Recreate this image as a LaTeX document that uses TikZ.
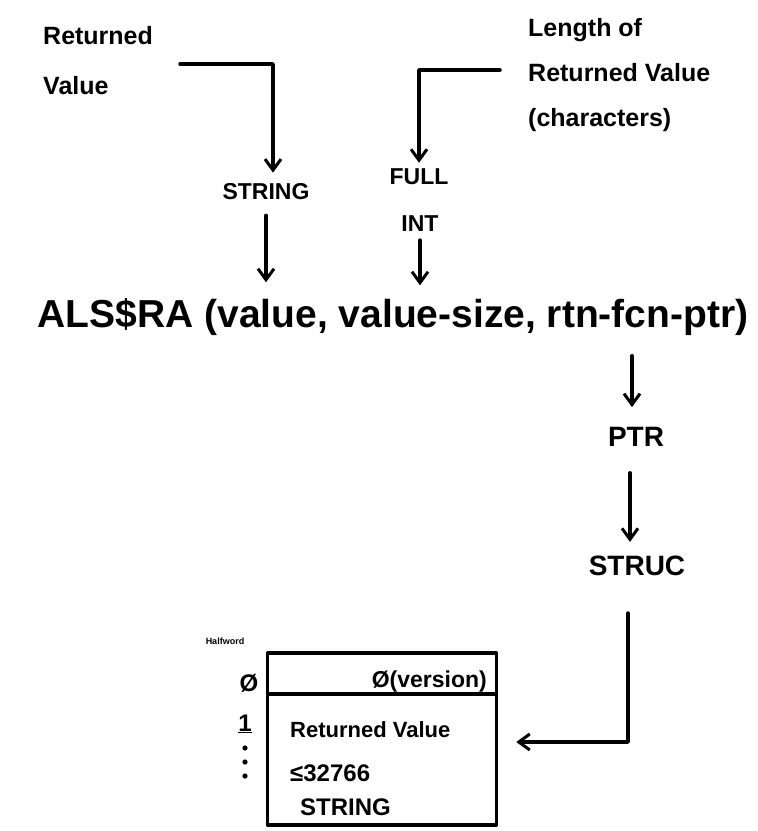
\documentclass[tikz,border=0pt]{standalone}
\usepackage{fontspec}
\setmainfont{Liberation Sans}
\usetikzlibrary{arrows.meta}
\begin{document}
\begin{tikzpicture}[x=1pt,y=-1pt,
  ink/.style={line width=3.5pt,line cap=round,line join=round},
  arr/.style={ink,-{Straight Barb[length=11pt,width=16pt,line width=3pt]}},
  fs/.style={font=\fontsize{#1}{#1}\selectfont\bfseries},
  lbl/.style={inner sep=0pt,align=left,font=\fontsize{25}{50}\selectfont\bfseries},
  caps/.style={inner sep=1pt,fs=23},
  boxtxt/.style={inner sep=0pt,anchor=west}]
\useasboundingbox (0,0) rectangle (758,831);

% input labels
\node[lbl,anchor=north west] (rv) at (43,26) {Returned\\Value};
\node[lbl,anchor=north west,font=\fontsize{25}{45}\selectfont\bfseries] (len) at (528,18)
  {Length of\\Returned Value\\(characters)};

% type annotations
\node[caps] (string1) at (266,192) {STRING};
\node[caps] (full) at (419,177) {FULL};
\node[caps] (int) at (420,224) {INT};

% the call
\node[inner sep=0pt,fs=39] (main) at (393,317)
  {ALS\$RA (value, value-size, rtn-fcn-ptr)};

% returned pointer chain
\node[caps,fs=28] (ptr) at (636,437) {PTR};
\node[caps,fs=28] (struc) at (637,566) {STRUC};

% structure layout
\node[draw,ink,minimum width=229,minimum height=172,inner sep=0pt] (box) at (382,739) {};
\draw[ink,line cap=butt] (box.west |- 0,694) -- (box.east |- 0,694);
\node[inner sep=0pt,fs=9] (hw) at (225,641) {Halfword};
\node[caps,fs=24] (h0) at (249,683) {Ø};
\node[caps,fs=24] (h1) at (245,724) {\underline{1}};
\foreach \yy in {748,762,776} \fill (245,\yy) circle (2.6);
\node[boxtxt,anchor=east,fs=23] (ver) at (487,682) {Ø(version)};
\node[boxtxt,fs=22] (retv) at (290,730) {Returned Value};
\node[boxtxt,fs=24] (lim) at (290,773) {≤32766};
\node[boxtxt,fs=24] (str2) at (300,807) {STRING};

% connectors
\coordinate (a1) at (180,64);
\draw[arr] (a1) -| ([xshift=7,yshift=10]string1.north);
\draw[arr] ([yshift=-14]string1.south) -- ([yshift=16]string1.south |- main.north);
\coordinate (a3) at (500,70);
\draw[arr] (a3) -| ([yshift=5]full.north);
\draw[arr] ([yshift=-7]int.south) -- ([yshift=13]int.south |- main.north);
\draw[arr] ([xshift=-4,yshift=-20]ptr.north |- main.south) -- ([xshift=-4,yshift=19]ptr.north);
\draw[arr] ([xshift=-6,yshift=-25]ptr.south) -- ([xshift=-6,yshift=13]ptr.south |- struc.north);
\coordinate (a7) at (628,613);
\draw[arr] (a7) |- ([xshift=18,yshift=-3]box.east);
\end{tikzpicture}
\end{document}
